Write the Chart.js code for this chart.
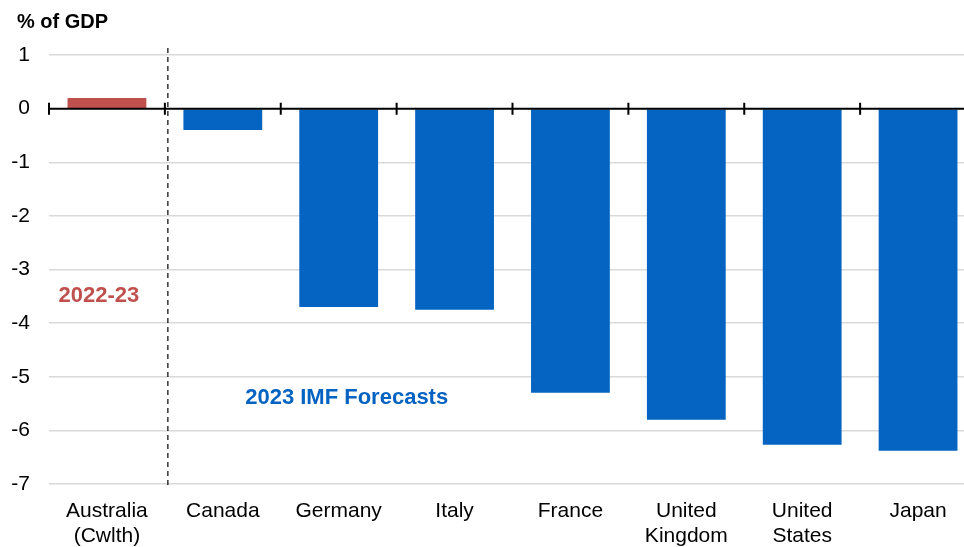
<!DOCTYPE html>
<html>
<head>
<meta charset="utf-8">
<script src="https://cdn.jsdelivr.net/npm/chart.js@4.4.1/dist/chart.umd.min.js"></script>
<style>
  html, body { margin: 0; padding: 0; background: #fff; overflow: hidden; }
  #wrap { width: 976px; height: 547px; position: relative; }
</style>
</head>
<body>
<div id="wrap"><canvas id="chart"></canvas></div>
<script>
const categories = [['Australia', '(Cwlth)'], 'Canada', 'Germany', 'Italy', 'France', ['United', 'Kingdom'], ['United', 'States'], 'Japan'];
const balances = [0.2, -0.4, -3.7, -3.75, -5.3, -5.8, -6.27, -6.38];
const barColours = ['#c0504d', '#0563c1', '#0563c1', '#0563c1', '#0563c1', '#0563c1', '#0563c1', '#0563c1'];
const yTicks = [1, 0, -1, -2, -3, -4, -5, -6, -7];

const FONT = 'Liberation Sans, Arial, sans-serif';

// zero line with small cross ticks, dashed divider, unit label and the two notes
const extras = {
    id: 'extras',
    afterDatasetsDraw(chart) {
        const { ctx, chartArea, scales } = chart;
        const x = scales.x, y = scales.y;
        const y0 = y.getPixelForValue(0);
        const step = x.getPixelForValue(1) - x.getPixelForValue(0);

        ctx.save();
        ctx.strokeStyle = '#000';
        ctx.lineWidth = 2;
        ctx.beginPath();
        ctx.moveTo(chartArea.left, y0);
        ctx.lineTo(chartArea.right, y0);
        for (let i = 0; i <= categories.length; i++) {
            const bx = x.getPixelForValue(i) - step / 2;
            ctx.moveTo(bx, y0 - 6);
            ctx.lineTo(bx, y0 + 6);
        }
        ctx.stroke();

        // divider between actual and forecasts
        const dx = x.getPixelForValue(0.5) + 3;
        ctx.lineWidth = 1.2;
        ctx.setLineDash([5, 4]);
        ctx.beginPath();
        ctx.moveTo(dx, chartArea.top - 7);
        ctx.lineTo(dx, chartArea.bottom + 3);
        ctx.stroke();
        ctx.setLineDash([]);

        ctx.textBaseline = 'middle';
        ctx.textAlign = 'left';
        ctx.fillStyle = '#000';
        ctx.font = 'bold 20px ' + FONT;
        ctx.fillText('% of GDP', 17, 22);

        ctx.font = 'bold 22px ' + FONT;
        ctx.textAlign = 'center';
        ctx.fillStyle = '#c0504d';
        ctx.fillText('2022-23', x.getPixelForValue(0) - 8, y.getPixelForValue(-3.5));
        ctx.fillStyle = '#0563c1';
        ctx.fillText('2023 IMF Forecasts', x.getPixelForValue(2) + 8, y.getPixelForValue(-5.39));
        ctx.restore();
    }
};

new Chart(document.getElementById('chart'), {
    type: 'bar',
    data: {
        labels: categories,
        datasets: [{
            data: balances,
            backgroundColor: barColours,
            barPercentage: 0.68,
            categoryPercentage: 1
        }]
    },
    options: {
        responsive: true,
        maintainAspectRatio: false,
        animation: false,
        layout: { padding: { left: 4, right: 0, top: 55, bottom: 0 } },
        plugins: {
            legend: { display: false },
            tooltip: { enabled: false },
            title: { display: false }
        },
        scales: {
            x: {
                offset: true,
                afterFit: (scale) => { scale.height = 63; },
                grid: { display: false },
                border: { display: false },
                ticks: {
                    color: '#000',
                    font: { family: FONT, size: 21, lineHeight: 1.19 },
                    padding: 7,
                    maxRotation: 0,
                    autoSkip: false
                }
            },
            y: {
                min: -7,
                max: 1,
                afterBuildTicks: (scale) => { scale.ticks = yTicks.map(v => ({ value: v })); },
                afterFit: (scale) => { scale.width = 45; },
                grid: {
                    color: (c) => c.tick && c.tick.value === 0 ? 'rgba(0,0,0,0)' : '#d9d9d9',
                    lineWidth: 1.5,
                    drawTicks: false
                },
                border: { display: false },
                ticks: {
                    color: '#000',
                    font: { family: FONT, size: 21 },
                    padding: 19
                }
            }
        }
    },
    plugins: [extras]
});
</script>
</body>
</html>
